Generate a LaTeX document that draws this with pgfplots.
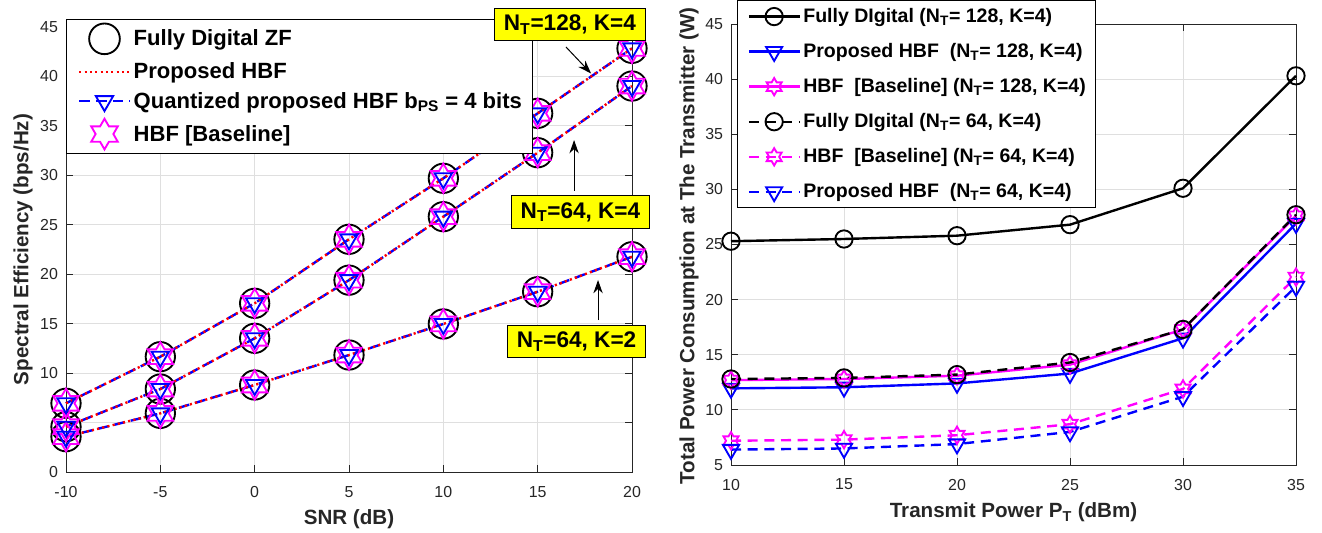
\documentclass[border=0pt]{standalone}
\usepackage{fontspec}
\setmainfont{Liberation Sans}
\usepackage{pgfplots}
\usepackage{pgfplotstable}
\pgfplotsset{compat=1.18}
\usetikzlibrary{arrows.meta}
\definecolor{axgray}{RGB}{38,38,38}
\definecolor{gridgray}{RGB}{223,223,223}
\definecolor{mag}{RGB}{255,0,255}
\definecolor{yel}{RGB}{255,255,0}
\definecolor{blu}{RGB}{0,0,255}
\definecolor{rd}{RGB}{255,0,0}
\tikzset{ann/.style={fill=yel, draw=black, line width=0.75bp, font=\fontsize{17}{20}\selectfont\bfseries, inner xsep=7bp, inner ysep=5bp, text=black}}
\pgfdeclareplotmark{hexagram}{%
  \pgfpathmoveto{\pgfpointpolar{90}{\pgfplotmarksize}}%
  \pgfpathlineto{\pgfpointpolar{120}{0.57735\pgfplotmarksize}}%
  \pgfpathlineto{\pgfpointpolar{150}{\pgfplotmarksize}}%
  \pgfpathlineto{\pgfpointpolar{180}{0.57735\pgfplotmarksize}}%
  \pgfpathlineto{\pgfpointpolar{210}{\pgfplotmarksize}}%
  \pgfpathlineto{\pgfpointpolar{240}{0.57735\pgfplotmarksize}}%
  \pgfpathlineto{\pgfpointpolar{270}{\pgfplotmarksize}}%
  \pgfpathlineto{\pgfpointpolar{300}{0.57735\pgfplotmarksize}}%
  \pgfpathlineto{\pgfpointpolar{330}{\pgfplotmarksize}}%
  \pgfpathlineto{\pgfpointpolar{0}{0.57735\pgfplotmarksize}}%
  \pgfpathlineto{\pgfpointpolar{30}{\pgfplotmarksize}}%
  \pgfpathlineto{\pgfpointpolar{60}{0.57735\pgfplotmarksize}}%
  \pgfpathclose
  \pgfusepathqstroke
}
\pgfplotstableread{
x A B C
-10 6.95 4.58 3.57
-5 11.66 8.39 5.93
0 17.06 13.52 8.80
5 23.53 19.40 11.83
10 29.70 25.82 14.97
15 36.27 32.29 18.23
20 42.84 39.03 21.77
}\tblSE
\pgfplotstableread{
x FDa PHa HBa FDb HBb PHb
10 25.3 11.95 12.7 12.8 7.2 6.4
15 25.5 12.05 12.8 12.9 7.3 6.5
20 25.8 12.4 13.1 13.2 7.7 6.9
25 26.8 13.3 14.1 14.3 8.7 8.0
30 30.1 16.5 17.3 17.3 11.9 11.2
35 40.3 26.9 27.6 27.7 22.05 21.2
}\tblPC
\pgfplotsset{
  mystyle/.style={
    scale only axis, anchor=south west, clip=false,
    axis line style={axgray, line width=0.6bp},
    tick style={axgray, line width=0.6bp},
    tick align=inside, major tick length=5bp,
    grid=major, grid style={gridgray, line width=0.6bp},
    tick label style={font=\fontsize{12}{14}\selectfont, text=axgray},
    xticklabel style={yshift=-7bp},
    yticklabel style={xshift=-2.5bp},
    label style={font=\fontsize{15.5}{18}\selectfont\bfseries, text=axgray},
    /pgf/number format/assume math mode=true,
    legend cell align=left,
    legend image code/.code={\path[draw=none, fill=none] (0bp,0bp) -- (3.5bp,0bp); \draw[mark repeat=2,mark phase=2,##1] plot coordinates {(3.5bp,0bp) (22.5bp,0bp) (41.5bp,0bp)};},
  },
  dsh/.style={dash pattern=on 8bp off 4.5bp},
  dsr/.style={dash pattern=on 7.5bp off 5bp},
  dtt/.style={dash pattern=on 1.6bp off 2.4bp},
}
\begin{document}
\begin{tikzpicture}
\useasboundingbox (0,0) rectangle (991.5bp,-399.75bp);
% ---------------- left axis
\begin{axis}[mystyle,
  at={(49.5bp,-354bp)}, width=424.5bp, height=333.75bp,
  xmin=-10, xmax=20, ymin=0, ymax=45,
  xtick={-10,-5,...,20}, ytick={0,5,...,45},
  yticklabels={0,,10,15,20,25,30,35,40,45},
  xlabel={SNR (dB)}, ylabel={Spectral Efficiency (bps/Hz)},
  xlabel style={at={(axis description cs:0.5,-0.117)}, anchor=base},
  ylabel style={at={(axis description cs:-0.076,0.5)}, anchor=center},
  legend style={at={(axis description cs:0,1.018)}, anchor=north west,
    draw=black, line width=0.75bp, fill=white, row sep=4.5bp,
    inner xsep=6bp, inner ysep=3bp,
    font=\fontsize{16.6}{19}\selectfont\bfseries, text=black},
]
\addlegendimage{only marks, mark=o, mark size=11.5bp, black, line width=1.4bp}
\addlegendentry{Fully Digital ZF}
\addlegendimage{rd, dtt, line width=1.8bp}
\addlegendentry{Proposed HBF}
\addlegendimage{blu, dsh, line width=1.8bp, mark=triangle, mark size=7.5bp, mark options={solid, rotate=180, line width=1.4bp}}
\addlegendentry{Quantized proposed HBF b\textsubscript{PS} = 4 bits}
\addlegendimage{only marks, mark=hexagram, mark size=11.5bp, mag, line width=1.4bp}
\addlegendentry{HBF [Baseline]}
\foreach \c in {A,B,C}{
  \addplot[forget plot, only marks, mark=o, mark size=11bp, black, line width=1.4bp] table[x=x, y=\c] {\tblSE};
}
\foreach \c in {A,B,C}{
  \addplot[forget plot, only marks, mark=hexagram, mark size=11bp, mag, line width=1.4bp] table[x=x, y=\c] {\tblSE};
}
\foreach \c in {A,B,C}{
  \addplot[forget plot, blu, dsh, line width=1.8bp, mark=triangle, mark size=7.5bp, mark options={solid, rotate=180, line width=1.4bp}] table[x=x, y=\c] {\tblSE};
}
\foreach \c in {A,B,C}{
  \addplot[forget plot, rd, dtt, line width=1.8bp] table[x=x, y=\c] {\tblSE};
}
\coordinate (t1) at (axis cs:16.50,42.98);
\coordinate (h1) at (axis cs:17.83,40.3);
\coordinate (t2) at (axis cs:16.93,28.42);
\coordinate (h2) at (axis cs:16.93,33.57);
\coordinate (t3) at (axis cs:18.20,15.37);
\coordinate (h3) at (axis cs:18.20,19.42);
\coordinate (b1) at (axis cs:16.71,45.25);
\coordinate (b2) at (axis cs:17.27,26.29);
\coordinate (b3) at (axis cs:17.06,13.2);
\end{axis}
\draw[black, line width=0.75bp, -{Stealth[length=10bp,width=7bp]}] (t1) -- (h1);
\draw[black, line width=0.75bp, -{Stealth[length=10bp,width=7bp]}] (t2) -- (h2);
\draw[black, line width=0.75bp, -{Stealth[length=10bp,width=7bp]}] (t3) -- (h3);
\node[ann] at (b1) {N\textsubscript{T}=128, K=4};
\node[ann] at (b2) {N\textsubscript{T}=64, K=4};
\node[ann] at (b3) {N\textsubscript{T}=64, K=2};
% ---------------- right axis
\begin{axis}[mystyle,
  at={(548.25bp,-348.75bp)}, width=423.75bp, height=330.75bp,
  xmin=10, xmax=35, ymin=5, ymax=45,
  xtick={10,15,...,35}, ytick={5,10,...,45},
  xlabel={Transmit Power P\textsubscript{T} (dBm)},
  ylabel={Total Power Consumption at The Transmitter (W)},
  xlabel style={at={(axis description cs:0.5,-0.120)}, anchor=base},
  ylabel style={at={(axis description cs:-0.0743,0.497)}, anchor=center},
  legend style={at={(axis description cs:0.0106,1.0544)}, anchor=north west,
    draw=black, line width=0.75bp, fill=white, row sep=10.2bp,
    inner xsep=5bp, inner ysep=4bp,
    font=\fontsize{14.7}{18}\selectfont\bfseries, text=black},
]
\addplot[black, line width=1.8bp, mark=o, mark size=6.5bp, mark options={solid, line width=1.4bp}] table[x=x, y=FDa] {\tblPC};
\addlegendentry{Fully DIgital (N\textsubscript{T}= 128, K=4)}
\addplot[blu, line width=1.8bp, mark=triangle, mark size=7bp, mark options={solid, rotate=180, line width=1.4bp}] table[x=x, y=PHa] {\tblPC};
\addlegendentry{Proposed HBF\ \ (N\textsubscript{T}= 128, K=4)}
\addplot[mag, line width=1.8bp, mark=hexagram, mark size=6.5bp, mark options={solid, line width=1.4bp}] table[x=x, y=HBa] {\tblPC};
\addlegendentry{HBF\ \ [Baseline] (N\textsubscript{T}= 128, K=4)}
\addplot[black, dsr, line width=1.8bp, mark=o, mark size=6.5bp, mark options={solid, line width=1.4bp}] table[x=x, y=FDb] {\tblPC};
\addlegendentry{Fully DIgital (N\textsubscript{T}= 64, K=4)}
\addplot[mag, dsr, line width=1.8bp, mark=hexagram, mark size=6.5bp, mark options={solid, line width=1.4bp}] table[x=x, y=HBb] {\tblPC};
\addlegendentry{HBF\ \ [Baseline] (N\textsubscript{T}= 64, K=4)}
\addplot[blu, dsr, line width=1.8bp, mark=triangle, mark size=7bp, mark options={solid, rotate=180, line width=1.4bp}] table[x=x, y=PHb] {\tblPC};
\addlegendentry{Proposed HBF\ \ (N\textsubscript{T}= 64, K=4)}
\end{axis}
\end{tikzpicture}
\end{document}
